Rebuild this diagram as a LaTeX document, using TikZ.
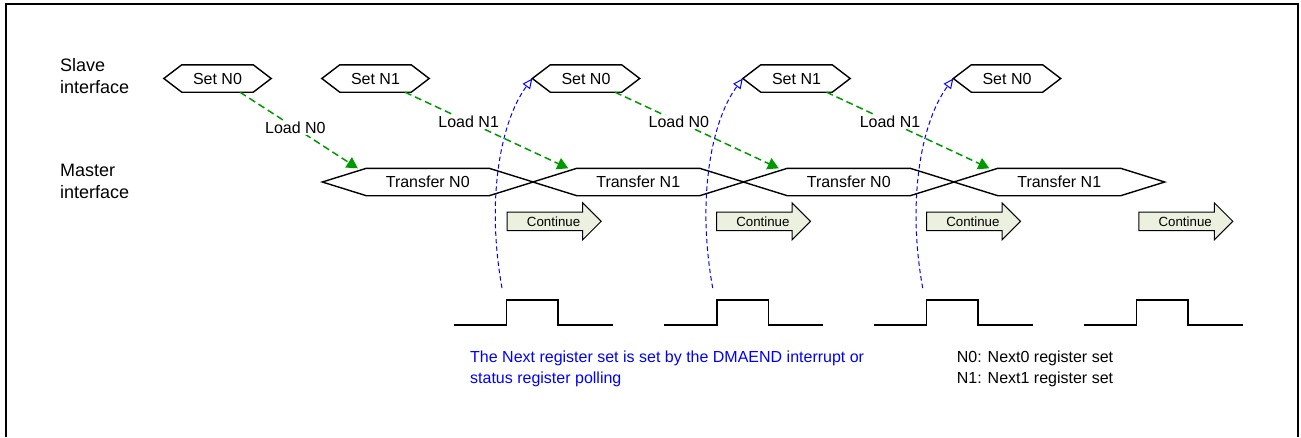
\documentclass[tikz,border=0pt]{standalone}
\usepackage{fontspec}
\setmainfont{Liberation Sans}
\usetikzlibrary{arrows.meta,shapes.arrows}

\definecolor{loadgreen}{RGB}{0,153,0}
\definecolor{nextblue}{RGB}{0,0,255}
\definecolor{contfill}{RGB}{235,241,222}

\tikzset{
  setbox/.style={minimum width=107pt, minimum height=27pt, inner sep=0pt, font=\fontsize{16}{19}\selectfont},
  xferbox/.style={minimum width=210.5pt, minimum height=27pt, inner sep=0pt, font=\fontsize{16}{19}\selectfont},
  hexline/.style={line width=1.4pt, black, line join=miter},
  loadarrow/.style={loadgreen, line width=1.5pt, dash pattern=on 7pt off 4pt, -{Triangle[length=11pt,width=12pt]}},
  loadlabel/.style={fill=white, inner sep=1pt, text=black, font=\fontsize{16}{19}\selectfont},
  nextline/.style={nextblue, line width=1pt, dash pattern=on 4.5pt off 3pt, -{Triangle[open,length=10pt,width=9pt]}},
  contarrow/.style={single arrow, draw=black, line width=1pt, fill=contfill, minimum height=94pt,
    single arrow head extend=9.3pt, single arrow tip angle=90, text height=9.5pt, text depth=0pt,
    inner ysep=3.95pt, inner xsep=2pt, font=\fontsize{13.3}{16}\selectfont},
  pulse/.style={line width=1.5pt, black},
  sidelabel/.style={anchor=north west, inner sep=0pt, align=left, font=\fontsize{18}{21.5}\selectfont},
  note/.style={anchor=north west, inner sep=0pt, align=left, font=\fontsize{16}{21.6}\selectfont},
  frame/.style={line width=2pt, black}
}

\begin{document}
\begin{tikzpicture}[x=1pt,y=-1pt]
\useasboundingbox (0,0) rectangle (1301,437);
\draw[frame] (6,437) |- (1298,4) -- (1298,437);

% interface names
\node[sidelabel] (slave) at (60,58.5) {Slave\\interface};
\node[sidelabel] (master) at (60,164) {Master\\interface};

% register sets written on the slave side
\node[setbox] (s1) at (217.5,78.5) {Set N0};
\node[setbox] (s2) at (375.5,78.5) {Set N1};
\node[setbox] (s3) at (586,78.5) {Set N0};
\node[setbox] (s4) at (796.5,78.5) {Set N1};
\node[setbox] (s5) at (1007,78.5) {Set N0};
\foreach \n in {s1,s2,s3,s4,s5}
  \draw[hexline] (\n.west) -- ([xshift=18pt]\n.north west) -- ([xshift=-18pt]\n.north east) -- (\n.east)
    -- ([xshift=-18pt]\n.south east) -- ([xshift=18pt]\n.south west) -- cycle;

% transfers on the master side
\node[xferbox] (t1) at (427.75,182) {Transfer N0};
\node[xferbox] (t2) at (638.25,182) {Transfer N1};
\node[xferbox] (t3) at (848.75,182) {Transfer N0};
\node[xferbox] (t4) at (1059.25,182) {Transfer N1};
\foreach \n in {t1,t2,t3,t4}
  \draw[hexline] (\n.west) -- ([xshift=44pt]\n.north west) -- ([xshift=-44pt]\n.north east) -- (\n.east)
    -- ([xshift=-44pt]\n.south east) -- ([xshift=44pt]\n.south west) -- cycle;

% loads
\foreach \s/\t/\d/\lab/\p in {s1/t1/22.5/Load N0/0.47, s2/t2/29.5/Load N1/0.39, s3/t3/29/Load N0/0.39, s4/t4/30/Load N1/0.39}
  \draw[loadarrow] ([xshift=\d pt]\s.south) -- ([xshift=35.5pt]\t.north west) node[loadlabel, pos=\p] {\lab};

% interrupt pulses
\foreach \x in {454,664.3,874,1084}
  \draw[pulse] (\x,325) -- ++(52.7,0) -- ++(0,-25) -- ++(51.3,0) -- ++(0,25) -- ++(54.7,0);

\coordinate (p1) at (502,288);
\coordinate (p2) at (712.7,288);
\coordinate (p3) at (922.7,288);
\foreach \p/\s in {p1/s3,p2/s4,p3/s5}
  \draw[nextline] (\p) .. controls +(-16,-88) and +(-32,43) .. (\s.west);

% continue arrows
\foreach \x [count=\i] in {506.7,716,926,1138.3}
  \node[contarrow, anchor=tail] (c\i) at (\x,221.3) {\hspace*{8pt}Continue};

\node[note, text=nextblue] (hint) at (470,350.2) {The Next register set is set by the DMAEND interrupt or\\status register polling};
\node[note] (legend) at (956.7,350.2) {N0: Next0 register set\\N1: Next1 register set};
\end{tikzpicture}
\end{document}
